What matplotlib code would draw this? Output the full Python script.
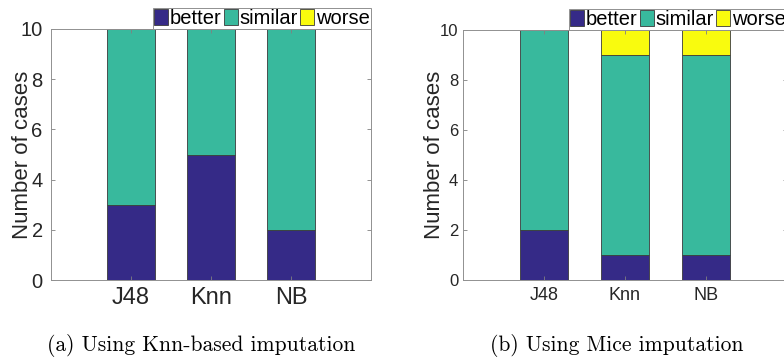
import matplotlib.pyplot as plt
import numpy as np

# datos
classifiers = ["J48", "Knn", "NB"]
knn_better = [3, 5, 2]
knn_similar = [7, 5, 8]
knn_worse = [0, 0, 0]
mice_better = [2, 1, 1]
mice_similar = [8, 8, 8]
mice_worse = [0, 1, 1]

c_better = "#352a87"
c_similar = "#38b99d"
c_worse = "#f9fb0e"
txt = "#262626"

plt.rcParams["font.family"] = ["Liberation Sans", "DejaVu Sans"]

fig = plt.figure(figsize=(7.84, 3.6), dpi=100)
ax1 = fig.add_axes([51 / 784, 80 / 360, 320 / 784, 251 / 360])
ax2 = fig.add_axes([463 / 784, 80 / 360, 324 / 784, 250 / 360])


def draw(ax, better, similar, worse, xfs, yfs, ypad):
    x = np.arange(1, len(classifiers) + 1)
    kw = dict(width=0.6, edgecolor="#3a3a3a", linewidth=0.6)
    ax.bar(x, better, color=c_better, label="better", **kw)
    ax.bar(x, similar, bottom=better, color=c_similar, label="similar", **kw)
    ax.bar(x, worse, bottom=np.add(better, similar), color=c_worse, label="worse", **kw)
    ax.set_xlim(0, 4)
    ax.set_ylim(0, 10)
    ax.set_xticks(x)
    ax.set_xticklabels(classifiers, fontsize=xfs, color=txt)
    ax.set_yticks(range(0, 11, 2))
    ax.tick_params(direction="in", length=3, top=True, right=True, color="#808080", width=0.6)
    ax.tick_params(axis="y", labelsize=yfs, labelcolor=txt, pad=ypad)
    ax.tick_params(axis="x", pad=5)
    for s in ax.spines.values():
        s.set_color("#909090")
        s.set_linewidth(0.7)
    ax.set_ylabel("Number of cases", fontsize=16, color=txt)
    ax.yaxis.set_label_coords(-0.057, 0.5)
    leg = ax.legend(loc="lower right", bbox_to_anchor=(1, 1), ncol=3, fontsize=14.5,
                    borderaxespad=0, handlelength=0.7, handleheight=0.9,
                    handletextpad=0.1, columnspacing=0.1, borderpad=0.05,
                    fancybox=False, framealpha=1)
    leg.get_frame().set_edgecolor("#909090")
    leg.get_frame().set_linewidth(0.7)


draw(ax1, knn_better, knn_similar, knn_worse, 17, 14.5, 6)
draw(ax2, mice_better, mice_similar, mice_worse, 13, 12, 3.5)

fig.text(201 / 784, 0.04, "(a) Using Knn-based imputation", family="cmr10",
         fontsize=15.5, ha="center", va="center")
fig.text(617 / 784, 0.04, "(b) Using Mice imputation", family="cmr10",
         fontsize=15.5, ha="center", va="center")

fig.savefig("out.png", dpi=100)
